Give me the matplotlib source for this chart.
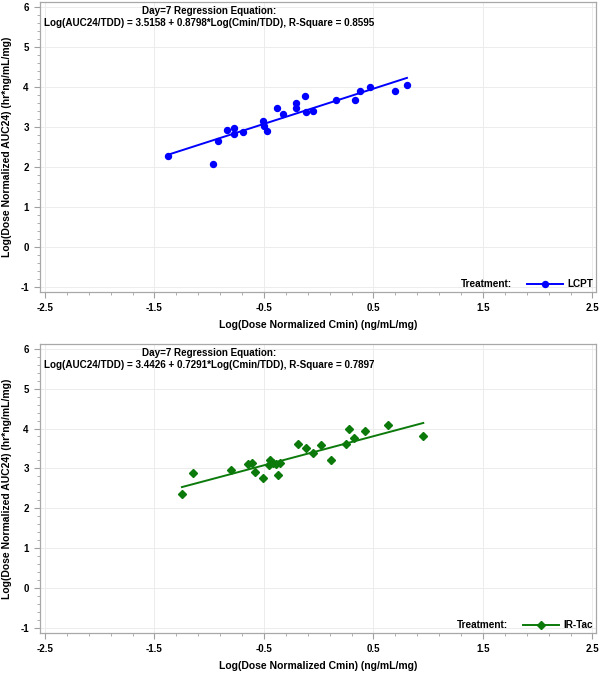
import numpy as np
import matplotlib
matplotlib.use('Agg')
import matplotlib.pyplot as plt
from matplotlib.lines import Line2D

plt.rcParams['font.family'] = ['Liberation Sans', 'DejaVu Sans']
plt.rcParams['font.weight'] = 'bold'

# LCPT (top panel)
x_lcpt = [-1.374, -0.966, -0.923, -0.841, -0.777, -0.777, -0.689, -0.509, -0.500, -0.475,
          -0.381, -0.324, -0.205, -0.205, -0.128, -0.114, -0.050, 0.158, 0.331, 0.377,
          0.471, 0.699, 0.806]
y_lcpt = [2.285, 2.08, 2.64, 2.92, 2.98, 2.83, 2.88, 3.16, 3.03, 2.90,
          3.475, 3.32, 3.61, 3.475, 3.78, 3.375, 3.39, 3.675, 3.675, 3.89,
          4.00, 3.89, 4.05]
coef_lcpt = (3.5158, 0.8798)
rsq_lcpt = 0.8595

# IR-Tac (bottom panel)
x_irtac = [-1.249, -1.146, -0.801, -0.646, -0.607, -0.585, -0.509, -0.448, -0.454, -0.418,
           -0.393, -0.369, -0.351, -0.189, -0.119, -0.050, 0.021, 0.115, 0.249, 0.276,
           0.319, 0.420, 0.632, 0.955]
y_irtac = [2.36, 2.875, 2.96, 3.11, 3.14, 2.90, 2.75, 3.21, 3.08, 3.14,
           3.10, 2.84, 3.14, 3.60, 3.51, 3.38, 3.58, 3.20, 3.615, 3.98,
           3.75, 3.93, 4.08, 3.81]
coef_irtac = (3.4426, 0.7291)
rsq_irtac = 0.7897

xticks = [-2.5, -1.5, -0.5, 0.5, 1.5, 2.5]
yticks = [-1, 0, 1, 2, 3, 4, 5, 6]

fig = plt.figure(figsize=(6.03, 6.73), dpi=100)
ax1 = fig.add_axes([0.0663, 0.566, 0.9217, 0.431])
ax2 = fig.add_axes([0.0663, 0.0594, 0.9217, 0.4296])

panels = [
    (ax1, x_lcpt, y_lcpt, coef_lcpt, rsq_lcpt, 'o', '#0000ff', 'LCPT'),
    (ax2, x_irtac, y_irtac, coef_irtac, rsq_irtac, 'D', '#0b7a0b', 'IR-Tac'),
]

for ax, xs, ys, coef, rsq, mk, col, name in panels:
    msz = 4.3 if mk == 'o' else 3.8
    ax.plot(xs, ys, linestyle='none', marker=mk, color=col, ms=msz, zorder=3)
    xl = np.array([min(xs), max(xs)])
    ax.plot(xl, coef[0] + coef[1] * xl, color=col, lw=1.4, zorder=2)

    ax.set_xlim(-2.545, 2.53)
    ax.set_ylim(-1.125, 6.12)
    ax.set_xticks(xticks)
    ax.set_yticks(yticks)
    ax.set_xticks(np.arange(-2.5, 2.51, 0.2), minor=True)
    ax.set_yticks(np.arange(-1, 6.01, 0.2), minor=True)
    ax.set_xticklabels([str(t) for t in xticks], fontsize=7, fontweight='bold')
    ax.set_yticklabels([str(t) for t in yticks], fontsize=7, fontweight='bold')
    ax.tick_params(which='major', length=4, color='#a0a0a0', width=0.8, pad=4)
    ax.tick_params(which='minor', length=2.5, color='#a0a0a0', width=0.6)
    ax.grid(True, which='major', color='#ececec', lw=0.7)
    ax.set_axisbelow(True)
    for s in ax.spines.values():
        s.set_color('#a8a8a8')
        s.set_linewidth(0.9)

    ax.set_xlabel('Log(Dose Normalized Cmin) (ng/mL/mg)', fontsize=7.5,
                  fontweight='bold', labelpad=5)
    ax.set_ylabel('Log(Dose Normalized AUC24) (hr*ng/mL/mg)', fontsize=7.5,
                  fontweight='bold', labelpad=6)

    eq = ('Day=7 Regression Equation:\n'
          'Log(AUC24/TDD) = %.4f + %.4f*Log(Cmin/TDD), R-Square = %.4f'
          % (coef[0], coef[1], rsq))
    ax.text(0.008, 0.985, eq, transform=ax.transAxes, ha='left', va='top',
            multialignment='center', fontsize=7.1, fontweight='bold',
            linespacing=1.25)

    blank = Line2D([], [], linestyle='none')
    h = Line2D([], [], color=col, marker=mk, ms=msz, lw=1.4)
    ax.legend([blank, h], ['Treatment:', name], loc='lower right', ncol=2,
              frameon=False, handlelength=3.6, handletextpad=0.4,
              columnspacing=1.5, borderaxespad=0.0, borderpad=0.3,
              prop={'weight': 'bold', 'size': 7.2})

fig.savefig('out.png', dpi=100)
